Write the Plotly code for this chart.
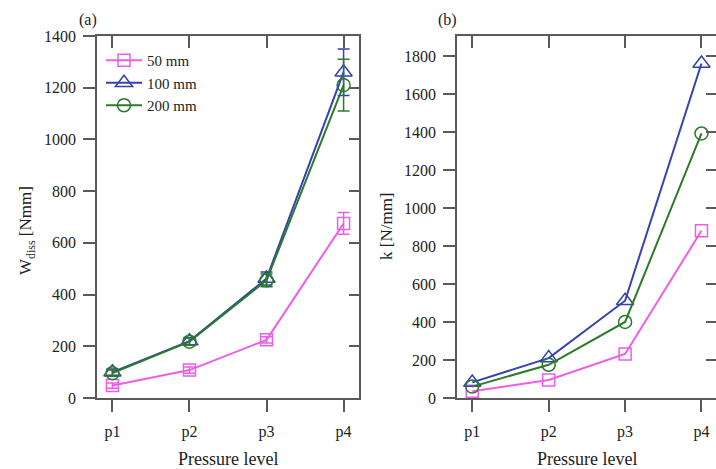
import plotly.graph_objects as go

levels = ["p1", "p2", "p3", "p4"]
series = ["50 mm", "100 mm", "200 mm"]

# Panel (a): dissipated work W_diss [Nmm]
w_50 = [48, 108, 225, 675]
w_100 = [100, 220, 462, 1260]
w_200 = [96, 218, 455, 1210]
w_err_50 = [10, 12, 12, 42]
w_err_100 = [12, 14, 25, 90]
w_err_200 = [12, 14, 25, 100]

# Panel (b): stiffness k [N/mm]
k_50 = [35, 95, 232, 880]
k_100 = [82, 210, 512, 1760]
k_200 = [60, 175, 400, 1392]

colors = {"50 mm": "#ee5ce8", "100 mm": "#3642b4", "200 mm": "#2c7a2c"}
symbols = {"50 mm": "square-open", "100 mm": "triangle-up-open", "200 mm": "circle-open"}
msize = {"50 mm": 12, "100 mm": 15, "200 mm": 13}

W, H = 716, 469
FONT = "Liberation Serif, Times New Roman, serif"
xi = list(range(len(levels)))

fig = go.Figure()

wa = {"50 mm": (w_50, w_err_50), "100 mm": (w_100, w_err_100), "200 mm": (w_200, w_err_200)}
for s in series:
    vals, err = wa[s]
    fig.add_trace(go.Scatter(
        x=xi, y=vals, name=s, mode="lines+markers",
        line=dict(color=colors[s], width=2),
        marker=dict(symbol=symbols[s], size=msize[s], color=colors[s], line=dict(width=1.5)),
        error_y=dict(type="data", array=err, visible=True, color=colors[s], thickness=1.5, width=6),
        cliponaxis=False, xaxis="x", yaxis="y", showlegend=True,
    ))

kb = {"50 mm": k_50, "100 mm": k_100, "200 mm": k_200}
for s in series:
    fig.add_trace(go.Scatter(
        x=xi, y=kb[s], name=s, mode="lines+markers",
        line=dict(color=colors[s], width=2),
        marker=dict(symbol=symbols[s], size=msize[s], color=colors[s], line=dict(width=1.5)),
        cliponaxis=False, xaxis="x2", yaxis="y2", showlegend=False,
    ))

# dummy traces for the inner mirrored ticks
for xa, ya in (("x3", "y3"), ("x4", "y4")):
    fig.add_trace(go.Scatter(x=[None], y=[None], xaxis=xa, yaxis=ya,
                             showlegend=False, hoverinfo="skip"))

ydom = [1 - 398 / H, 1 - 36 / H]
xdom_a = [97 / W, 359 / W]
xdom_b = [457 / W, 1.0]
LC = "#5a5a5a"
tickfont = dict(family=FONT, size=16, color="#222")

def xax(domain, anchor, rng):
    return dict(domain=domain, anchor=anchor, range=rng, tickvals=xi, ticktext=levels,
                ticks="outside", ticklen=12, tickwidth=1.5, tickcolor=LC,
                showline=True, linecolor=LC, linewidth=1.5, mirror=True, automargin=False,
                showgrid=False, zeroline=False, tickfont=tickfont, ticklabelstandoff=6)

def yax(domain, anchor, rng, dtick):
    return dict(domain=domain, anchor=anchor, range=rng, dtick=dtick, tick0=0,
                ticks="outside", ticklen=12, tickwidth=1.5, tickcolor=LC,
                showline=True, linecolor=LC, linewidth=1.5, mirror=True, automargin=False,
                showgrid=False, zeroline=False, tickfont=tickfont, ticklabelstandoff=4)

def xin(over, anchor, rng):
    return dict(overlaying=over, anchor=anchor, side="top", range=rng, tickvals=xi,
                ticks="inside", ticklen=12, tickwidth=1.5, tickcolor=LC, automargin=False,
                showticklabels=False, showline=False, showgrid=False, zeroline=False)

def yin(over, anchor, rng, dtick):
    return dict(overlaying=over, anchor=anchor, side="right", range=rng, dtick=dtick, tick0=0,
                ticks="inside", ticklen=10, tickwidth=1.5, tickcolor=LC, automargin=False,
                showticklabels=False, showline=False, showgrid=False, zeroline=False)

ra_x = [-0.2, 3.2]
rb_x = [-0.2, 3.19]
ra_y = [0, 1400]
rb_y = [0, 1905]

def ann(text, x, y, size, angle=0):
    return dict(text=text, x=x / W, y=1 - y / H, xref="paper", yref="paper",
                xanchor="center", yanchor="middle", showarrow=False, textangle=angle,
                font=dict(family=FONT, size=size, color="#222"))

fig.update_layout(
    width=W, height=H,
    margin=dict(l=0, r=0, t=0, b=0, pad=0, autoexpand=False),
    paper_bgcolor="white", plot_bgcolor="white",
    font=dict(family=FONT, color="#222"),
    xaxis=xax(xdom_a, "y", ra_x),
    yaxis=yax(ydom, "x", ra_y, 200),
    xaxis2=xax(xdom_b, "y2", rb_x),
    yaxis2=yax(ydom, "x2", rb_y, 200),
    xaxis3=xin("x", "y", ra_x),
    yaxis3=yin("y", "x", ra_y, 200),
    xaxis4=xin("x2", "y2", rb_x),
    yaxis4=yin("y2", "x2", rb_y, 200),
    legend=dict(x=101 / W, y=1 - 44 / H, xanchor="left", yanchor="top",
                bgcolor="rgba(0,0,0,0)", font=dict(family=FONT, size=15, color="#222"),
                itemwidth=36, tracegroupgap=0),
    showlegend=True,
    annotations=[
        ann("(a)", 88, 20, 16),
        ann("(b)", 447, 20, 16),
        ann("Pressure level", 228, 459, 18),
        ann("Pressure level", 587, 459, 18),
        ann("W<sub style='font-size:10px'>diss</sub> [Nmm]", 27, 231, 17, -90),
        ann("k [N/mm]", 387, 226, 17, -90),
    ],
)

fig.write_html(
    "out.html",
    config={"displayModeBar": False},
    post_script="document.body.style.margin='0';document.body.style.overflow='hidden';",
)
